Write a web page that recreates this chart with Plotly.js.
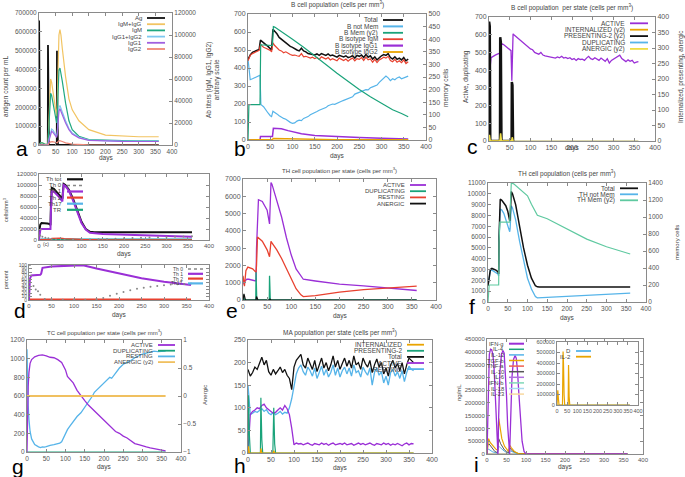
<!DOCTYPE html>
<html><head><meta charset="utf-8">
<script src="https://cdn.plot.ly/plotly-3.0.1.min.js"></script>
<style>html,body{margin:0;padding:0;background:#fff;overflow:hidden}#chart{width:685px;height:477px}</style>
</head><body><div id="chart"></div>
<script>
// ---------- DATA ----------
// panel a
const aAgX=[0,0.3,1.5,3,26.5,27,28.5,30,53.5,54,55.5,57,360];
const aAgY=[0,660000,300000,0,0,530000,200000,0,0,500000,180000,0,0];
const aIgX=[0,5,10,20,27,29,32,35,38,42,46,50,53,55,57,60,63,66,70,80,90,100,120,150,200,250,300,360];
const aIgMG=[0,2000,2000,500,500,20000,50000,60000,57000,48000,38000,30000,26000,40000,80000,100000,105000,100000,88000,62000,42000,32000,22000,14000,9000,8000,7500,7500];
const aIgM=[0,2000,2000,500,500,15000,40000,47000,45000,38000,30000,24000,20000,30000,55000,68000,70000,66000,58000,38000,22000,14000,8000,5000,4200,4000,3800,3800];
const aIgGX=[0,27,30,35,38,42,46,50,53,55,57,60,63,66,70,80,90,100,120,150,200,250,300,360];
const aIgG12=[0,0,5000,13000,14500,13500,11000,9000,8000,12000,26000,34000,36000,34000,30000,22000,15000,11000,7000,4500,3800,3600,3500,3500];
const aIgG1=[0,0,4000,11000,12500,11500,9500,7500,7000,10500,23000,31000,33000,31000,27500,20000,14000,10000,6500,4200,3500,3300,3200,3200];
const aIgG2X=[0,27,30,35,40,45,50,55,58,62,70,80,100,120,150,360];
const aIgG2=[0,0,1500,2800,3000,2500,2000,2000,3500,4000,3200,2000,800,300,100,0];
const aNames=['Ag','IgM+IgG','IgM','IgG1+IgG2','IgG1','IgG2'];
// panel b
const bX=[0,5,10,15,20,25,28,30,35,40,45,50,53,56,60,65,70,75,80,85,90,95,100,105,110,115,120,125,130,135,140,145,150,155,160,165,170,175,180,185,190,195,200,205,210,215,220,225,230,235,240,245,250,255,260,265,270,275,280,285,290,295,300,305,310,315,320,325,330,335,340,345,350,355,360];
const bTotal=[448,473,487,492,497,503,555,550,540,530,520,510,500,615,605,590,570,560,545,540,530,520,515,505,500,495,510,495,490,480,478,475,472,478,470,480,475,470,478,468,472,465,460,470,465,462,468,458,462,468,455,470,465,472,458,475,460,468,450,462,445,458,468,475,470,480,458,450,462,448,455,445,458,440,450];
const bIgM=[440,470,480,485,492,498,530,525,515,510,505,498,490,540,525,510,500,495,485,490,480,475,470,472,468,465,480,462,465,458,455,460,452,458,448,462,455,450,458,445,452,448,440,455,448,442,450,438,448,455,440,452,448,458,442,460,445,450,432,448,430,445,452,460,455,465,442,435,448,432,440,430,445,425,435];
const bNMX=[0,3,5,10,15,20,25,27,29,30,35,40,45,50,53,56,60,65,70,75,80,85,90,95,100,105,110,115,120,125,130,135,140,145,150,155,160,165,170,175,180,185,190,195,200,205,210,215,220,225,230,235,240,245,250,255,260,265,270,275,280,285,290,295,300,305,310,315,320,325,330,335,340,345,350,355,360];
const bNotMem=[450,350,335,340,345,350,355,360,200,195,185,165,150,135,130,160,155,145,135,125,120,115,105,98,92,95,105,110,108,120,125,130,140,145,150,158,165,170,178,180,190,195,200,198,205,210,215,220,225,232,238,240,255,260,262,270,275,280,278,290,295,300,305,320,330,345,355,345,330,340,335,345,350,340,345,352,355];
const bMemX=[0,2,5,27,28.5,30,55,57,60,80,100,125,150,175,200,225,250,275,300,325,345,360];
const bMem=[0,140,140,140,380,378,375,450,448,425,400,368,335,300,265,232,200,172,145,120,105,92];
const bG1X=[0,27,28,55,57,60,75,90,100,120,150,200,250,300,360];
const bIgG1=[0,0,20,20,65,65,62,52,45,35,25,18,14,10,6];
const bG2X=[0,27,28,55,57,80,120,200,360];
const bIgG2=[0,0,3,3,8,7,4,2,1];
const bNames=['Total','B not Mem','B Mem (y2)','B isotype IgM','B isotype IgG1','B isotype IgG2'];
// panel c
const cX=[0,2,5,10,15,20,25,27,30,35,40,45,50,53,55,58,60,65,70,75,80,85,90,95,100,105,110,115,120,125,130,135,140,145,150,155,160,165,170,175,180,185,190,195,200,205,210,215,220,225,230,235,240,245,250,255,260,265,270,275,280,285,290,295,300,305,310,315,320,325,330,335,340,345,350,355,360];
const cActive=[0,400,470,480,485,490,495,480,550,545,535,525,515,510,340,605,600,590,575,565,555,545,540,530,520,515,500,495,490,500,485,480,478,475,470,472,468,475,470,478,468,472,465,470,460,465,455,465,460,462,455,468,478,465,460,470,462,455,468,460,450,465,440,455,462,470,480,485,465,455,448,458,450,455,440,445,448];
const cPresX=[0,0.3,1.8,3,26.5,27,28.5,30,54.5,55,56.5,58];
const cPres=[0,385,370,0,0,335,320,0,0,190,180,0];
const cSpX=[0,1,3,26.5,28,30,54.5,56,58];
const cDup=[0,30,0,0,80,0,0,100,0];
const cAnerg=[0,20,0,0,25,0,0,12,0];
const cIntern=[0,8,0,0,10,0,0,6,0];
const cNames=['ACTIVE','INTERNALIZED (y2)','PRESENTING-2 (y2)','DUPLICATING','ANERGIC (y2)'];
// panel d (top)
const d1TotX=[0,3,6,10,20,25,27,28,30,35,40,45,50,55,56,58,62,70,80,90,100,110,120,130,200,300,360];
const d1Tot=[13000,28000,31000,31000,30000,29000,27000,60000,95000,93000,88000,84000,80000,75000,85000,102000,100000,92000,75000,52000,33000,20000,15000,14000,14000,14000,14000];
const d1Th1X=[0,3,6,25,27,28,30,35,45,55,56,58,62,70,80,90,100,110,120,150,200,250,300,360];
const d1Th1=[0,18000,20000,20000,20000,50000,88000,88000,80000,70000,80000,100000,98000,90000,72000,50000,31000,19000,13000,11000,9500,8000,7000,6000];
const d1Th0X=[3,8,15,22,30,40,60,80,100,120,140,160,180,200,220,240,260,280,300,320,340,360];
const d1Th0=[8000,6000,4000,3000,2000,1500,1000,800,700,800,1200,1800,2500,3000,3500,4000,4500,5000,5500,6000,6500,7000];
const d1Th2X=[0,5,27,30,50,60,100,150,360];
const d1Th2=[0,800,800,3000,3500,2500,1000,500,300];
const d1FlatX=[0,5,360];
const d1Th17=[0,1500,1500];
const d1TR=[0,1000,1000];
const d1Names=['Th tot','Th 0','Th 1','Th 2','Th17','TR'];
// panel d (bottom)
const d2Th1X=[0,2,5,25,27,30,50,80,100,120,150,200,250,300,360];
const d2Th1=[0,60,70,72,75,92,96,98,99,99.5,90,75,62,52,43];
const d2Th0X=[2,10,15,20,25,35,50,75,100,125,150,165,180,195,210,225,240,255,270,285,300,315,330,345,360];
const d2Th0=[100,40,30,25,15,3,1,1,1,1,2,6,12,18,23,28,32,35,38,40,42,44,45,46,47];
const d2FlatX=[0,360];
const d2Th2=[2,2];
const d2Th17=[0.5,0.5];
const d2Names=['Th 0','Th 1','Th 2','Th17'];
// panel e
const eActX=[0,2,4,8,12,20,27,28,32,40,50,55,56,58,60,70,80,90,100,110,120,125,150,175,200,250,300,360];
const eAct=[1300,900,1100,1200,1200,1150,1100,3000,5800,5700,5200,4400,5500,6800,6700,5800,4800,3600,2600,1800,1350,1200,1100,1000,920,820,700,550];
const eRestX=[0,3,6,10,20,27,28,30,40,50,55,56,58,60,70,80,90,100,110,120,125,150,200,250,300,360];
const eRest=[1400,800,1700,1900,1800,1600,2000,3650,3400,2900,2500,2900,3400,3300,2900,2400,1800,1200,650,300,200,250,450,600,700,800];
const eDupX=[0,1,3,26.5,27,28.5,54.5,55,56.5,360];
const eDup=[0,300,0,0,1600,0,0,1400,0,0];
const eAnX=[0,2,5,27,28,31,55,56,58,360];
const eAn=[0,350,0,0,200,0,0,50,0,0];
const eNames=['ACTIVE','DUPLICATING','RESTING','ANERGIC'];
// panel f
const fTotX=[0,3,6,10,15,20,25,27,28,31,35,40,45,50,55,56,59,62,70,80,90,100,110,120,125,130,200,300,360];
const fTot=[1500,2500,3000,3100,3050,2950,2800,2600,6000,9500,9400,9200,8900,8400,7500,7800,10200,10000,9000,7000,5000,3400,2200,1500,1400,1380,1380,1400,1380];
const fNMX=[0,3,6,10,15,20,25,27,28,31,35,40,45,50,55,56,59,62,70,80,90,100,110,120,125,150,200,250,300,360];
const fNotMem=[1500,2400,2900,2950,2850,2750,2600,2400,5800,8600,8500,8200,7700,7200,6500,6800,8900,8700,7600,5600,3800,2200,1200,500,380,420,520,620,720,820];
const fMemX=[0,3,5,27,28,30,55,57,59,65,75,100,110,120,125,150,175,200,250,300,360];
const fMem=[0,200,200,200,700,940,940,1100,1400,1390,1350,1250,1150,1050,1020,980,920,860,740,650,565];
const fNames=['Total','TH not Mem','TH Mem (y2)'];
// panel g
const gActX=[0,1,3,5,8,12,20,30,40,50,60,70,80,90,100,105,110,120,130,140,150,160,170,180,190,200,210,220,230,240,250,260,270,280,290,300,310,320,330,340,350,360];
const gAct=[0,300,700,850,950,990,1020,1035,1040,1030,1015,1010,990,960,880,810,790,740,660,600,550,500,460,420,380,330,300,250,220,200,170,150,120,90,80,65,55,45,35,25,18,12];
const gRestX=[0,1,3,5,8,12,20,30,35,40,45,50,55,60,70,80,85,90,100,105,110,120,130,140,150,160,165,170,175,180,190,200,210,215,220,230,240,250,260,270,280,290,300,310,320,330,340,350,360];
const gRest=[1100,800,500,350,220,140,80,55,48,55,52,58,68,72,78,90,95,110,200,240,270,330,380,420,480,540,560,600,640,660,700,740,790,800,790,850,900,940,960,980,1010,1030,1050,1060,1070,1080,1075,1078,1082];
const gFlatX=[0,360];
const gDup=[0,0];
const gAnerg=[0,0];
const gNames=['ACTIVE','DUPLICATING','RESTING','ANERGIC (y2)'];
// panel h
const hX=[0,5,10,15,20,25,30,35,40,45,50,55,60,65,70,75,80,85,90,95,100,105,110,115,120,125,130,135,140,145,150,155,160,165,170,175,180,185,190,195,200,205,210,215,220,225,230,235,240,245,250,255,260,265,270,275,280,285,290,295,300,305,310,315,320,325,330,335,340,345,350,355,360];
const hTotal=[185,170,178,190,185,200,212,195,205,180,172,185,175,182,190,178,185,172,165,140,190,205,212,218,195,188,210,198,185,205,180,195,210,188,200,182,195,215,190,205,185,198,210,192,205,188,215,195,200,185,210,198,190,205,178,195,208,190,200,175,188,170,195,205,188,198,182,200,175,195,210,205,200];
const hRest=[150,85,88,92,90,95,98,92,96,88,85,90,85,88,92,86,90,88,100,120,150,175,188,195,180,172,190,182,170,188,165,178,192,172,185,168,178,195,172,188,168,182,190,175,188,170,195,178,182,168,190,180,172,188,150,178,188,172,180,155,170,150,178,185,170,180,165,182,158,178,192,185,182];
const hActive=[0,85,92,95,100,98,105,108,100,95,92,88,90,95,100,95,105,98,85,55,18,22,20,21,18,20,22,19,17,21,20,18,22,19,21,17,20,22,18,20,21,19,22,18,20,21,17,20,22,19,21,18,20,22,19,17,21,20,18,22,19,21,17,20,18,21,19,16,20,22,18,21,20];
const hPresX=[0,1,3,5,27,28,30,32,54,56,58,60,360];
const hPres=[0,128,40,0,0,122,30,0,0,100,20,0,0];
const hIntX=[0,1,3,27,28,30,55,56,58,360];
const hInt=[0,15,0,0,10,0,0,5,0,0];
const hNames=['INTERNALIZED','PRESENTING-2','Total','ACTIVE','RESTING'];
// panel i
const iIFNX=[0,3,6,9,12,15,18,21,24,27,28,30,33,37,41,44,47,50,53,56,57,58,61,64,68,72,75,78,82,86,90,95,100,360];
const iIFN=[0,250000,390000,410000,408000,390000,340000,240000,110000,10000,0,150000,320000,390000,405000,395000,330000,230000,110000,20000,0,0,150000,300000,370000,385000,375000,330000,230000,130000,50000,10000,0,0];
const iTGFX=[0,2,4,8,15,22,27,28,30,33,38,45,52,55,56,58,62,70,80,360];
const iTGF=[0,55000,60000,45000,30000,20000,15000,60000,140000,110000,60000,30000,15000,10000,15000,35000,25000,10000,2000,0];
const iIL10X=[0,2,5,12,20,27,28,30,35,45,55,56,58,65,80,360];
const iIL10=[0,35000,40000,25000,10000,5000,40000,60000,40000,15000,5000,15000,25000,12000,2000,0];
const iIL12X=[0,2,5,15,27,29,32,45,55,57,60,75,360];
const iIL12=[0,20000,18000,8000,3000,30000,28000,10000,3000,15000,12000,2000,0];
const iFlatX=[0,360];
const iFlat=[0,0];
const iNames=['IFN-g','IL-4','IL-12','TGF-b','TNF-a','IL-10','IL-6','IFN-b','IL-18','IL-23'];
const iIL2X=[0,2,4,7,10,27,28,30,32,35,38,55,56,57,58,60,63,360];
const iIL2=[0,130000,140000,60000,0,0,200000,510000,400000,100000,0,0,200000,380000,300000,80000,0,0];
const iD=[0,0];
const iInNames=['D','IL-2'];

// ---------- STYLE / LAYOUT ----------
const W=685,H=477;
const px=v=>v/W, py=v=>1-v/H;
const C={purple:'#9a2fd6',green:'#1aa37a',lblue:'#56b4e9',orange:'#e9a400',red:'#e8412f',yellow:'#eedd44',black:'#111111'};
const layout={width:W,height:H,margin:{l:0,r:0,t:0,b:0,pad:0},paper_bgcolor:'#fff',plot_bgcolor:'rgba(0,0,0,0)',showlegend:false,
  font:{family:'"Liberation Sans", Arial, sans-serif',size:7,color:'#444'},annotations:[],shapes:[]};
const traces=[];
function sfx(i){return i===1?'':String(i);}
function base(o,fs){return Object.assign({showgrid:false,zeroline:false,showline:true,linecolor:'#8a8a8a',linewidth:1,ticks:'inside',ticklen:3,tickcolor:'#8a8a8a',tickwidth:1,tickfont:{size:fs||7,color:'#555'},tickangle:0,fixedrange:true,automargin:false},o);}
function panel(p){
  const xr='x'+sfx(p.xi), yr='y'+sfx(p.yi);
  layout['xaxis'+sfx(p.xi)]=base({domain:[px(p.box[0]),px(p.box[1])],anchor:yr,range:[0,400],dtick:50,tick0:0,mirror:'ticks'},p.xfs||p.fs);
  layout['yaxis'+sfx(p.yi)]=base({domain:[py(p.box[3]),py(p.box[2])],anchor:xr,range:p.yr,dtick:p.yd,tick0:0,mirror:p.y2?false:'ticks',tickformat:p.yf||''},p.fs);
  if(p.y2){layout['yaxis'+p.y2]=base({overlaying:yr,side:'right',anchor:xr,range:p.y2r,dtick:p.y2d,tick0:0,tickformat:p.y2f||''},p.fs);}
}
function L(x,y,xi,yi,color,w,extra){traces.push(Object.assign({type:'scatter',mode:'lines',x:x,y:y,xaxis:'x'+sfx(xi),yaxis:'y'+sfx(yi),line:{color:color,width:w||1.2},hoverinfo:'skip'},extra||{}));}
function T(text,x,y,fs,opts){layout.annotations.push(Object.assign({xref:'paper',yref:'paper',x:px(x),y:py(y),xanchor:'center',yanchor:'middle',text:text,showarrow:false,font:{size:fs,color:'#444'}},opts||{}));}
function legend(names,colors,xr,y0,dy,fs,len,widths,dashes){
  names.forEach((n,i)=>{const y=y0+i*dy;
    T(n,xr,y,fs,{xanchor:'right'});
    layout.shapes.push({type:'line',xref:'paper',yref:'paper',x0:px(xr+3),x1:px(xr+3+len),y0:py(y),y1:py(y),line:{color:colors[i],width:(widths&&widths[i])||1.8,dash:(dashes&&dashes[i])||'solid'}});
  });
}

// panels
panel({xi:1,yi:1,y2:2,box:[39,172,13,145],yr:[0,700000],yd:100000,yf:'d',y2r:[0,120000],y2d:20000,y2f:'d',fs:6.5});
panel({xi:2,yi:3,y2:4,box:[248,426,14,140],yr:[0,700],yd:100,y2r:[0,500],y2d:50,fs:7});
panel({xi:3,yi:5,y2:6,box:[489,655,17,141],yr:[0,700],yd:100,y2r:[0,400],y2d:50,fs:7});
panel({xi:4,yi:7,box:[39,209,174,240],yr:[0,120000],yd:20000,yf:'d',fs:6});
panel({xi:5,yi:8,box:[29,209,265,300],yr:[0,100],yd:10,fs:5,xfs:6});
panel({xi:6,yi:9,box:[243,436,179,300],yr:[0,7000],yd:1000,yf:'d',fs:7});
panel({xi:7,yi:10,y2:11,box:[488,646,183,302],yr:[0,11000],yd:1000,yf:'d',y2r:[0,1400],y2d:200,fs:6.5});
panel({xi:8,yi:12,y2:13,box:[27,181,340,452],yr:[0,1200],yd:200,y2r:[-1,1],y2d:0.5,fs:6.5});
panel({xi:9,yi:14,box:[248,432,340,453],yr:[0,250],yd:50,fs:7});
panel({xi:10,yi:15,box:[487,643,339,454],yr:[0,450000],yd:50000,yf:'d',fs:6});
panel({xi:11,yi:16,box:[557,638,342,405],yr:[0,600000],yd:100000,yf:'d',fs:5.5});

// ---- traces ----
// a
const aCol=[C.black,'#f2c462','#20a880','#7ec8f0','#a060e0','#f08878'];
L(aIgX,aIgMG,1,2,aCol[1],1.2);
L(aIgX,aIgM,1,2,aCol[2],1.2);
L(aIgGX,aIgG12,1,2,aCol[3],1.2);
L(aIgGX,aIgG1,1,2,aCol[4],1.2);
L(aIgG2X,aIgG2,1,2,aCol[5],1.2);
L(aAgX,aAgY,1,1,aCol[0],1.8);
// b
const bCol=[C.black,C.lblue,C.green,C.red,C.purple,C.orange];
L(bMemX,bMem,2,4,bCol[2],1.2);
L(bNMX,bNotMem,2,3,bCol[1],1.2);
L(bG1X,bIgG1,2,3,bCol[4],1.5);
L(bG2X,bIgG2,2,3,bCol[5],1.5);
L(bX,bTotal,2,3,bCol[0],1.5);
L(bX,bIgM,2,3,bCol[3],1.2);
// c
const cCol=[C.purple,C.orange,C.black,C.lblue,C.yellow];
L(cPresX,cPres,3,6,cCol[2],2.5);
L(cX,cActive,3,5,cCol[0],1.3);
L(cSpX,cIntern,3,6,cCol[1],1.2);
L(cSpX,cDup,3,5,cCol[3],1.5);
L(cSpX,cAnerg,3,6,cCol[4],1.5);
L([0,360],[0,0],3,5,'#b8b060',1.2);
// d top
const d1Col=[C.black,'#888888',C.purple,C.red,C.lblue,C.green];
L(d1FlatX,d1Th17,4,7,d1Col[4],1.5);
L(d1FlatX,d1TR,4,7,d1Col[5],1.5);
L(d1Th2X,d1Th2,4,7,d1Col[3],1.2);
L(d1TotX,d1Tot,4,7,d1Col[0],2);
L(d1Th1X,d1Th1,4,7,d1Col[2],2);
traces.push({type:'scatter',mode:'markers',x:d1Th0X,y:d1Th0,xaxis:'x4',yaxis:'y7',marker:{color:'#888',size:2},hoverinfo:'skip'});
// d bottom
const d2Col=['#888888',C.purple,C.red,C.lblue];
L(d2FlatX,d2Th17,5,8,d2Col[3],1.5);
L(d2FlatX,d2Th2,5,8,d2Col[2],1.5);
L(d2Th1X,d2Th1,5,8,d2Col[1],2);
traces.push({type:'scatter',mode:'markers',x:d2Th0X,y:d2Th0,xaxis:'x5',yaxis:'y8',marker:{color:'#888',size:2},hoverinfo:'skip'});
// e
const eCol=[C.purple,C.green,C.red,C.black];
L(eActX,eAct,6,9,eCol[0],1.3);
L(eRestX,eRest,6,9,eCol[2],1.3);
L(eDupX,eDup,6,9,eCol[1],1.3);
L(eAnX,eAn,6,9,eCol[3],1.2);
// f
const fCol=[C.black,C.lblue,'#5fc9a0'];
L(fMemX,fMem,7,11,fCol[2],1.2);
L(fNMX,fNotMem,7,10,fCol[1],1.3);
L(fTotX,fTot,7,10,fCol[0],1.5);
// g
const gCol=[C.purple,C.green,C.lblue,'#f0c060'];
L(gFlatX,gAnerg,8,13,gCol[3],1.8);
L(gFlatX,gDup,8,12,gCol[1],1.2);
L(gRestX,gRest,8,12,gCol[2],1.3);
L(gActX,gAct,8,12,gCol[0],1.3);
// h
const hCol=[C.orange,C.green,C.black,C.purple,C.lblue];
L(hX,hRest,9,14,hCol[4],1.3);
L(hX,hTotal,9,14,hCol[2],1.3);
L(hX,hActive,9,14,hCol[3],1.3);
L(hPresX,hPres,9,14,hCol[1],1.2);
L(hIntX,hInt,9,14,hCol[0],1.2);
// i
const iCol=[C.purple,C.green,C.lblue,C.orange,'#f06050','#555555','#b070e0','#80d8b8','#a8d8f0','#f8d8a0'];
[1,4,6,7,9].forEach(k=>L(iFlatX,iFlat,10,15,iCol[k],1));
L(iIL12X,iIL12,10,15,iCol[2],1);
L(iIL10X,iIL10,10,15,iCol[5],1);
L(iTGFX,iTGF,10,15,iCol[3],1.2);
L(iIFNX,iIFN,10,15,iCol[0],1.3);
L(iFlatX,iD,11,16,C.lblue,1.2);
L(iIL2X,iIL2,11,16,C.orange,1.2);

// ---- legends ----
legend(aNames,aCol,144,18,6.2,6,18);
legend(bNames,bCol,380,20,6.4,6.5,20,[1.8,2,1.8,1.8,2.2,1.8]);
legend(cNames,cCol,627,23.3,6.4,6.5,18);
legend(d1Names,d1Col,64,179.3,6.1,6,16,[2.2,1.5,2.2,2.2,2.2,2.2],['solid','dot','solid','solid','solid','solid']);
legend(d2Names,d2Col,185,269,4.8,5,15,[1.5,2.2,2.2,2.2],['dot','solid','solid','solid']);
legend(eNames,eCol,407,185,6.2,6,16);
legend(fNames,fCol,617,188.3,6,6.5,18);
legend(gNames,gCol,155,345,5.7,6,17);
legend(hNames,hCol,404,344.7,6.1,6.5,17);
legend(iNames,iCol,506,343.7,5.6,5.8,15,[2,1.5,1.5,1.5,1.5,1.5,1.5,1.5,1.5,1.5]);
legend(iInNames,[C.lblue,C.orange],573,351,5.7,6,15);

// ---- titles and axis labels ----
T('B cell population (cells per mm<sup>3</sup>)',337,5,6.5);
T('B cell population  per state (cells per mm<sup>3</sup>)',572,8,6.5);
T('TH cell population per state (cells per mm<sup>3</sup>)',339,170,6);
T('TH cell population (cells per mm<sup>3</sup>)',567,174,6.5);
T('TC cell population per state (cells per mm<sup>3</sup>)',104,332,6);
T('MA population per state (cells per mm<sup>3</sup>)',340,332,6.5);
[[106,158],[337,156],[572,148],[124,254],[119,315],[340,316],[567,318],[104,467],[340,468],[565,467]].forEach(p=>T('days',p[0],p[1],6.5));
T('antigen count per mL',6,87,6.5,{textangle:-90});
T('Ab titers (IgM, IgG1, IgG2)<br>arbitrary scale',213,80,6.5,{textangle:-90});
T('memory cells',446,88,6.5,{textangle:-90});
T('Active, duplicating',466,77,6.5,{textangle:-90});
T('Internalized, presenting, anergic',681,77,6.5,{textangle:-90});
T('cells/mm<sup>3</sup>',6,210,5.5,{textangle:-90});
T('percent',6,280,5.5,{textangle:-90});
T('memory cells',677,243,6,{textangle:-90});
T('Anergic',205,395,6,{textangle:-90});
T('ng/mL',459,393,6,{textangle:-90});
T('(c)',46,244,5);
// panel letters
[['a',22,148],['b',240,148],['c',473,146],['d',20,310],['e',232,310],['f',472,306],['g',18,466],['h',240,465],['i',476,464]].forEach(p=>T(p[0],p[1],p[2],21,{font:{size:21,color:'#000',family:'"Liberation Sans", Arial, sans-serif'}}));

Plotly.newPlot('chart',traces,layout,{staticPlot:true,displayModeBar:false});
</script></body></html>
